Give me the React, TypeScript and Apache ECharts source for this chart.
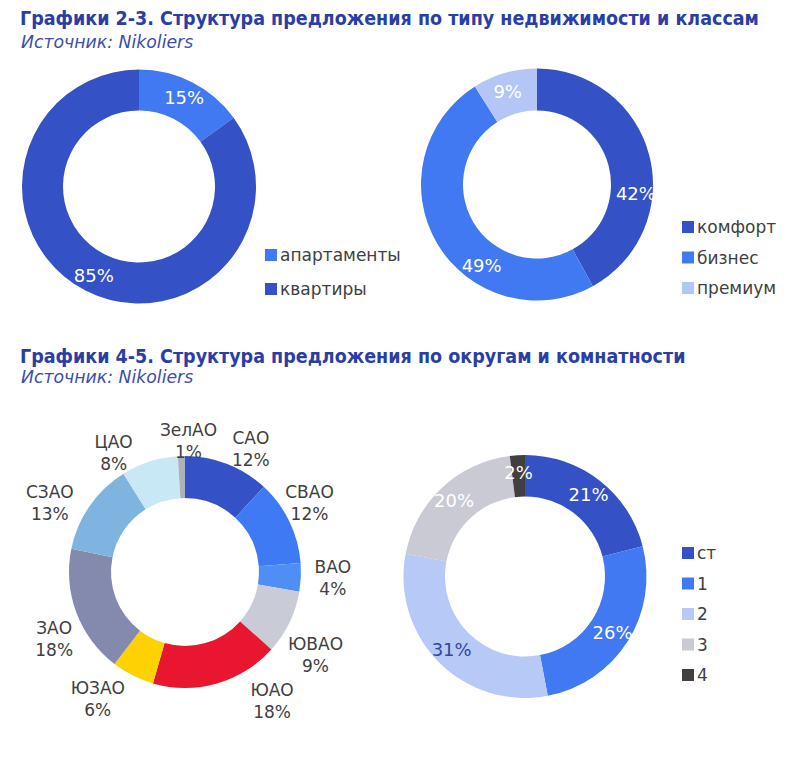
import React, { useEffect, useRef } from "react";
import * as echarts from "echarts";

// ---- data ----
const typeNames = ["апартаменты", "квартиры"];
const typeValues = [15, 85];

const classNames = ["комфорт", "бизнес", "премиум"];
const classValues = [42, 49, 9];

const districtNames = ["САО", "СВАО", "ВАО", "ЮВАО", "ЮАО", "ЮЗАО", "ЗАО", "СЗАО", "ЦАО", "ЗелАО"];
const districtValues = [12, 12, 4, 9, 18, 6, 18, 13, 8, 1];

const roomNames = ["ст", "1", "2", "3", "4"];
const roomValues = [21, 26, 31, 20, 2];

const titleTop = "Графики 2-3. Структура предложения по типу недвижимости и классам";
const titleBottom = "Графики 4-5. Структура предложения по округам и комнатности";
const sourceText = "Источник: Nikoliers";

// ---- styles ----
const DARK = "#3451c6";
const BRIGHT = "#4179f2";
const typeColors = [BRIGHT, DARK];
const classColors = [DARK, BRIGHT, "#b3c6f5"];
const districtColors = [
  DARK, "#3f7af5", "#4f8ef5", "#c9cbd6", "#e8172f", "#fdd200", "#8489ae", "#7fb3e0", "#c9e8f6", "#adb2ba",
];
const roomColors = [DARK, BRIGHT, "#b6c9f7", "#c9cad3", "#404040"];

const FONT = "'DejaVu Sans', sans-serif";
const TITLE_FONT = "'DejaVu Sans Condensed', 'Liberation Sans Narrow', 'DejaVu Sans', sans-serif";

// label nudges (px) for label placement tweaks
const classLabelNudge = [[4, 33], [29, 31], [-2, 1]];
const districtLabelNudge = [
  [13, 12], [-6, -6], [3, -1], [0, 20], [47, -10], [-22, -3], [5, 16], [-16, 14], [-27, 19], [8, 14],
];

function midAngles(values: number[]) {
  const total = values.reduce((a, b) => a + b, 0);
  let acc = 0;
  return values.map((v) => {
    const mid = acc + v / 2;
    acc += v;
    return ((90 - (mid / total) * 360) * Math.PI) / 180;
  });
}

function toData(names: string[], values: number[], colors: string[], labelColors?: (string | null)[]) {
  return names.map((n, i) => ({
    name: n,
    value: values[i],
    itemStyle: { color: colors[i] },
    ...(labelColors && labelColors[i] ? { label: { color: labelColors[i] } } : {}),
  }));
}

export default function App() {
  const ref = useRef<HTMLDivElement>(null);
  useEffect(() => {
    if (!ref.current) return;
    const chart = echarts.init(ref.current, null, { renderer: "svg" });
    const C3 = [185, 572];
    const R3 = 145;
    const dMids = midAngles(districtValues);

    const titleStyle = { fontFamily: TITLE_FONT, fontWeight: "bold", fontSize: 19.5, color: "#2b3ea6" };
    const srcStyle = { fontFamily: FONT, fontStyle: "italic", fontWeight: "normal", fontSize: 17.3, color: "#3a4db0" };
    const legendBase = {
      orient: "vertical",
      icon: "rect",
      itemWidth: 12,
      itemHeight: 12,
      padding: 0,
      selectedMode: false,
      textStyle: { fontFamily: FONT, fontSize: 17, color: "#404040", lineHeight: 20, padding: [0, 0, 0, -2] },
    };
    const insideLabel = {
      show: true,
      position: "inside",
      formatter: "{c}%",
      color: "#ffffff",
      fontFamily: FONT,
      fontSize: 18,
    };
    const pieBase = {
      type: "pie",
      startAngle: 90,
      clockwise: true,
      avoidLabelOverlap: false,
      emphasis: { disabled: true },
      labelLine: { show: false },
    };

    chart.setOption({
      animation: false,
      textStyle: { fontFamily: FONT },
      title: [
        { text: titleTop, left: 20, top: 8, padding: 0, textStyle: titleStyle },
        { text: sourceText, left: 21, top: 33, padding: 0, textStyle: srcStyle },
        { text: titleBottom, left: 20, top: 346, padding: 0, textStyle: titleStyle },
        { text: sourceText, left: 21, top: 368, padding: 0, textStyle: srcStyle },
      ],
      legend: [
        { ...legendBase, data: typeNames, left: 265, top: 245, itemGap: 14 },
        { ...legendBase, data: classNames, left: 682, top: 217, itemGap: 10.5 },
        { ...legendBase, data: roomNames, left: 682, top: 543, itemGap: 10.5 },
      ],
      series: [
        {
          ...pieBase,
          name: "type",
          center: [139, 186.5],
          radius: [76, 117],
          label: insideLabel,
          data: toData(typeNames, typeValues, typeColors),
        },
        {
          ...pieBase,
          name: "class",
          center: [537, 184.5],
          radius: [74, 116],
          label: insideLabel,
          labelLayout: (p: any) => {
            const n = classLabelNudge[p.dataIndex] || [0, 0];
            return { dx: n[0], dy: n[1] };
          },
          data: toData(classNames, classValues, classColors),
        },
        {
          ...pieBase,
          name: "district",
          center: C3,
          radius: [74, 116],
          label: {
            show: true,
            position: "outside",
            formatter: "{b}\n{c}%",
            color: "#404040",
            fontFamily: FONT,
            fontSize: 17,
            lineHeight: 22,
          },
          labelLayout: (p: any) => {
            const a = dMids[p.dataIndex];
            const n = districtLabelNudge[p.dataIndex] || [0, 0];
            return {
              x: C3[0] + R3 * Math.cos(a) + n[0],
              y: C3[1] - R3 * Math.sin(a) + n[1],
              align: "center",
              verticalAlign: "middle",
            };
          },
          data: toData(districtNames, districtValues, districtColors),
        },
        {
          ...pieBase,
          name: "rooms",
          center: [525, 576.5],
          radius: [80, 121.5],
          label: insideLabel,
          data: toData(roomNames, roomValues, roomColors, [null, null, "#33469a", null, null]),
        },
      ],
    });
    return () => chart.dispose();
  }, []);
  return (
    <div
      ref={ref}
      style={{ position: "fixed", left: 0, top: 0, width: 800, height: 759, background: "#ffffff" }}
    />
  );
}
